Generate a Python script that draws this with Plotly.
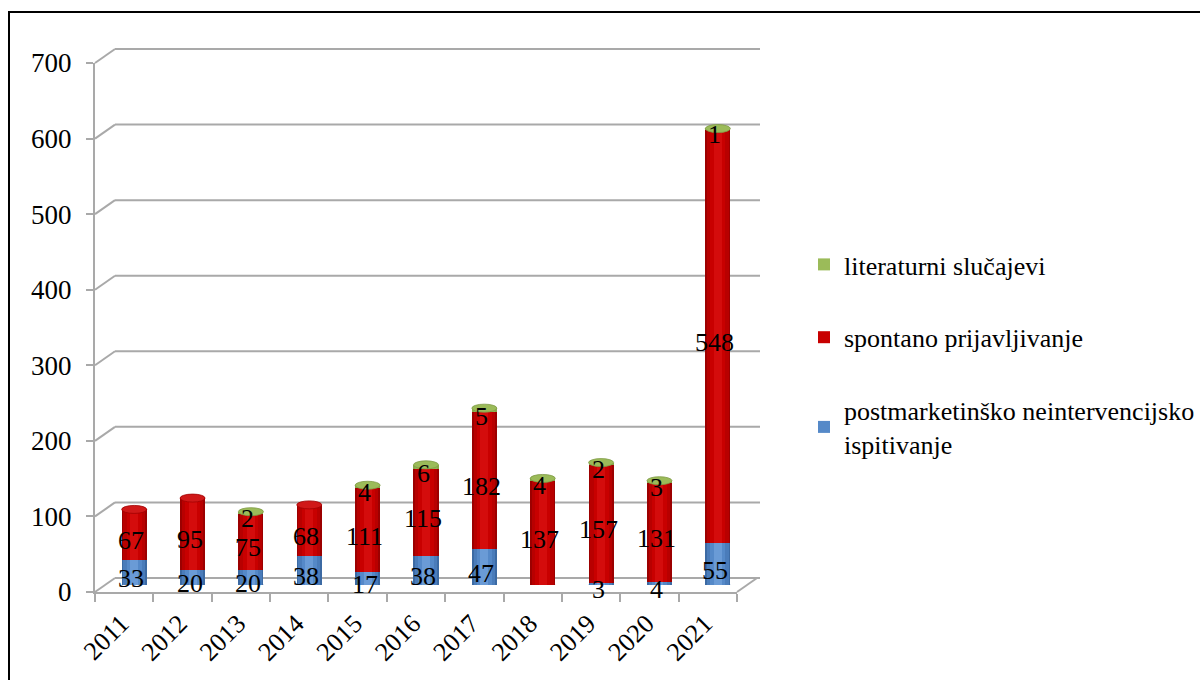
import plotly.graph_objects as go

# Yearly case counts by source of report
years = ["2011", "2012", "2013", "2014", "2015", "2016", "2017", "2018", "2019", "2020", "2021"]
postmarketinsko = [33, 20, 20, 38, 17, 38, 47, 0, 3, 4, 55]
spontano = [67, 95, 75, 68, 111, 115, 182, 137, 157, 131, 548]
literaturni = [0, 0, 2, 0, 4, 6, 5, 4, 2, 3, 1]

y_ticks = [0, 100, 200, 300, 400, 500, 600, 700]
Y_MAX = 700

names = {
    "blue": "postmarketinško neintervencijsko<br>ispitivanje",
    "red": "spontano prijavljivanje",
    "green": "literaturni slučajevi",
}
ranks = {"green": 1, "red": 2, "blue": 3}

FONT = "Liberation Serif"
GRID = "#a9a9a9"

# pixel geometry of the pseudo-3D box
PLOT_W, PLOT_H = 665, 543
DEPTH_X, DEPTH_Y = 20, 14
BAR_DX, BAR_DY = 10, 7
FRONT_W, FRONT_H = 642, 529

base_red = [b for b in postmarketinsko]
base_green = [b + r for b, r in zip(postmarketinsko, spontano)]
totals = [b + r + g for b, r, g in zip(postmarketinsko, spontano, literaturni)]

fig = go.Figure()

# invisible trace so the front axes have their categories
fig.add_trace(go.Scatter(x=years, y=totals, mode="markers", marker=dict(opacity=0),
                         showlegend=False, hoverinfo="skip", xaxis="x", yaxis="y"))

BW = 0.43  # bar width in category units

# cylinder shading: concentric strips, from the edge to the highlight
shades = {
    "blue": [(1.0, "#3c6aa3"), (0.86, "#4a7cba"), (0.6, "#5589c8"), (0.32, "#6a9bd6")],
    "red": [(1.0, "#9c0000"), (0.86, "#b80000"), (0.6, "#c80000"), (0.32, "#d40c0c")],
    "green": [(1.0, "#86a84a"), (0.86, "#94b556"), (0.6, "#9bbb59"), (0.32, "#a8c86a")],
}
series = [
    ("blue", postmarketinsko, [0] * len(years)),
    ("red", spontano, base_red),
    ("green", literaturni, base_green),
]
for key, vals, base in series:
    for i, (frac, col) in enumerate(shades[key]):
        fig.add_trace(go.Bar(
            x=years, y=vals, base=base, width=BW * frac,
            marker=dict(color=col, line=dict(width=0)),
            name=names[key], legendgroup=key, legendrank=ranks[key], showlegend=(i == 2),
            xaxis="x2", yaxis="y2", hoverinfo="skip",
        ))

shapes = []


def paper_y(v):
    # front-plane value -> paper coordinate
    return v / Y_MAX * FRONT_H / PLOT_H


# back-wall gridlines with slanted connectors to the front axis
for v in y_ticks:
    shapes.append(dict(type="line", xref="paper", yref="paper", xsizemode="pixel", ysizemode="pixel",
                       xanchor=0, yanchor=paper_y(v), x0=0, x1=DEPTH_X, y0=0, y1=DEPTH_Y,
                       line=dict(color=GRID, width=2), layer="below"))
    shapes.append(dict(type="line", xref="paper", yref="paper", xsizemode="pixel", ysizemode="pixel",
                       xanchor=0, yanchor=paper_y(v), x0=DEPTH_X, x1=PLOT_W, y0=DEPTH_Y, y1=DEPTH_Y,
                       line=dict(color=GRID, width=2), layer="below"))
# right edge of the floor
shapes.append(dict(type="line", xref="paper", yref="paper", xsizemode="pixel", ysizemode="pixel",
                   xanchor=0, yanchor=paper_y(0), x0=FRONT_W, x1=FRONT_W + DEPTH_X, y0=0, y1=DEPTH_Y,
                   line=dict(color=GRID, width=2), layer="below"))

# elliptical caps and bottoms of the cylinders
for i, yr in enumerate(years):
    top_col = "#9bbb59" if literaturni[i] > 0 else "#d01818"
    bot_col = "#4f81bd" if postmarketinsko[i] > 0 else "#c00000"
    shapes.append(dict(type="circle", xref="x2", yref="y2", xsizemode="pixel", ysizemode="pixel",
                       xanchor=i, yanchor=0, x0=-12.5, x1=12.5, y0=-4, y1=4,
                       fillcolor=bot_col, line=dict(width=0), layer="below"))
    shapes.append(dict(type="circle", xref="x2", yref="y2", xsizemode="pixel", ysizemode="pixel",
                       xanchor=i, yanchor=totals[i], x0=-12.5, x1=12.5, y0=-4, y1=4,
                       fillcolor=top_col,
                       line=dict(color="#7f9a45" if literaturni[i] > 0 else "#a00000", width=0.8)))

# outer frame
shapes.append(dict(type="rect", xref="paper", yref="paper",
                   x0=(9 - 95) / PLOT_W, x1=2.0, y0=-0.5, y1=(592 - 12) / PLOT_H,
                   line=dict(color="black", width=2), fillcolor="rgba(0,0,0,0)", layer="below"))

# value labels at the centre of each segment
annotations = []
for key, vals, base in series:
    for i, yr in enumerate(years):
        if vals[i] > 0:
            annotations.append(dict(x=i, y=base[i] + vals[i] / 2, xref="x2", yref="y2",
                                    text=str(vals[i]), showarrow=False, yshift=-6, xshift=-3,
                                    font=dict(family=FONT, size=26, color="black")))

fig.update_layout(
    width=1200, height=680,
    margin=dict(l=95, r=440, t=49, b=88, autoexpand=False),
    font=dict(family=FONT, color="black"),
    paper_bgcolor="white", plot_bgcolor="rgba(0,0,0,0)",
    barmode="overlay", bargap=0,
    shapes=shapes, annotations=annotations,
    xaxis=dict(type="category", categoryarray=years, range=[-0.5, 10.5],
               domain=[0, FRONT_W / PLOT_W], anchor="y", automargin=False,
               showgrid=False, zeroline=False, showline=True, linecolor=GRID, linewidth=2,
               ticks="outside", tickson="boundaries", ticklen=8, tickcolor=GRID, tickwidth=2,
               tickangle=-45, ticklabelshift=-3, ticklabelstandoff=4,
               tickfont=dict(family=FONT, size=26, color="black")),
    yaxis=dict(range=[0, Y_MAX], domain=[0, FRONT_H / PLOT_H], anchor="x", automargin=False,
               tickvals=y_ticks, showgrid=False, zeroline=False,
               showline=True, linecolor=GRID, linewidth=2,
               ticks="outside", ticklen=7, tickcolor=GRID, tickwidth=2, ticklabelstandoff=9,
               tickfont=dict(family=FONT, size=27, color="black")),
    xaxis2=dict(type="category", categoryarray=years, range=[-0.5, 10.5],
                domain=[BAR_DX / PLOT_W, (FRONT_W + BAR_DX) / PLOT_W], anchor="y2",
                visible=False),
    yaxis2=dict(range=[0, Y_MAX], domain=[BAR_DY / PLOT_H, (FRONT_H + BAR_DY) / PLOT_H], anchor="x2",
                visible=False),
    legend=dict(x=(804 - 95) / PLOT_W, y=(592 - 241) / PLOT_H, xanchor="left", yanchor="top",
                tracegroupgap=36,
                font=dict(family=FONT, size=26, color="black"), bgcolor="rgba(0,0,0,0)"),
    showlegend=True,
)

fig.write_html("out.html")
